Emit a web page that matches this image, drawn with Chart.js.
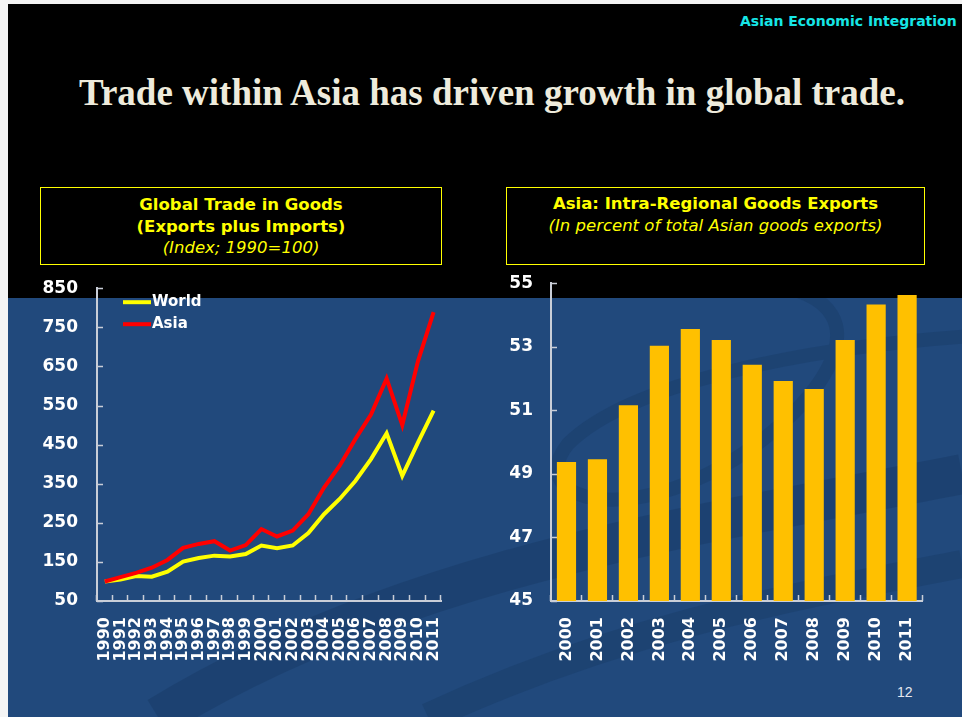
<!DOCTYPE html>
<html>
<head>
<meta charset="utf-8">
<script src="https://cdn.jsdelivr.net/npm/chart.js@4.4.1/dist/chart.umd.min.js"></script>
<style>
  html, body { margin: 0; padding: 0; }
  body { width: 962px; height: 717px; overflow: hidden; background: #f4f4f4; position: relative; }
  #slide { position: absolute; left: 8px; top: 4px; width: 954px; height: 713px; background: #21497c; overflow: hidden; }
  #top { position: absolute; left: 0; top: 0; width: 954px; height: 294px; background: #000; }
  .abs { position: absolute; white-space: nowrap; }
  #tag { left: 732px; top: 9px; color: #16e6e6; font: bold 14px "DejaVu Sans", sans-serif; }
  #title { left: 0; width: 968px; top: 67px; text-align: center; color: #eeebdc; font: bold 37px "Liberation Serif", serif; }
  .box { position: absolute; border: 1px solid #ffff00; color: #ffff00; text-align: center; font: bold 16.5px "DejaVu Sans", sans-serif; line-height: 21.5px; box-sizing: border-box; padding-top: 6px; }
  .box i { font-weight: normal; }
  #page { left: 889px; top: 680px; color: #e6e8f0; font: 14px "Liberation Sans", sans-serif; }
  canvas { position: absolute; }
</style>
</head>
<body>
<div id="slide">
  <svg width="954" height="713" style="position:absolute;left:0;top:0">
    <path d="M150 713 C 400 560, 700 520, 954 470" stroke="#1b3f6c" stroke-width="40" fill="none" opacity="0.7"/>
    <path d="M420 713 C 620 620, 800 590, 954 560" stroke="#1b3f6c" stroke-width="28" fill="none" opacity="0.6"/>
    <path d="M1000 330 C 800 340, 620 380, 560 440 C 520 490, 600 520, 700 470 C 800 420, 900 300, 760 280" stroke="#1b3f6c" stroke-width="14" fill="none" opacity="0.6"/>
  </svg>
  <div id="top"></div>
  <div class="abs" id="tag">Asian Economic Integration</div>
  <div class="abs" id="title">Trade within Asia has driven growth in global trade.</div>
  <div id="page" class="abs">12</div>
</div>
<div class="box" style="left:40px;top:187px;width:402px;height:78px;">Global Trade in Goods<br>(Exports plus Imports)<br><i>(Index; 1990=100)</i></div>
<div class="box" style="left:506px;top:187px;width:419px;height:78px;padding-top:5px;">Asia: Intra-Regional Goods Exports<br><i>(In percent of total Asian goods exports)</i></div>
<canvas id="tradeChart" width="439" height="421" style="left:30px;top:259px"></canvas>
<canvas id="intraChart" width="453" height="425" style="left:490px;top:255px"></canvas>
<script>
// Global trade in goods, index 1990 = 100
const tradeYears = ['1990','1991','1992','1993','1994','1995','1996','1997','1998','1999','2000',
                    '2001','2002','2003','2004','2005','2006','2007','2008','2009','2010','2011'];
const worldIndex = [100, 105, 114, 112, 125, 151, 160, 166, 164, 170, 192,
                    185, 192, 224, 272, 311, 357, 413, 479, 370, 455, 537];
const asiaIndex  = [100, 111, 122, 135, 155, 186, 196, 203, 179, 193, 234,
                    215, 230, 272, 340, 396, 464, 527, 619, 500, 663, 789];

// Intra-regional share of Asian goods exports (percent)
const intraYears = ['2000','2001','2002','2003','2004','2005','2006','2007','2008','2009','2010','2011'];
const intraShare = [49.37, 49.46, 51.16, 53.03, 53.56, 53.21, 52.43, 51.92, 51.67, 53.21, 54.33, 54.63];

const axisColor = '#c9ced8';
const labelFont = { family: 'DejaVu Sans', weight: 'bold', size: 17 };

// tick marks pointing into the plot, like the original
const innerTicks = {
    id: 'innerTicks',
    beforeDatasetsDraw(chart) {
        const { ctx, chartArea, scales } = chart;
        ctx.save();
        ctx.strokeStyle = axisColor;
        ctx.lineWidth = 1.5;
        ctx.beginPath();
        scales.y.ticks.forEach(t => {
            const py = Math.round(scales.y.getPixelForValue(t.value)) + 0.5;
            ctx.moveTo(chartArea.left, py);
            ctx.lineTo(chartArea.left + 6, py);
        });
        const x = scales.x;
        const n = chart.data.labels.length;
        const step = (x.right - x.left) / n;
        for (let i = 0; i <= n; i++) {
            const px = Math.round(x.left + i * step) - 0.5;
            ctx.moveTo(px, chartArea.bottom);
            ctx.lineTo(px, chartArea.bottom - 6);
        }
        ctx.stroke();
        ctx.restore();
    }
};

// legend inside the plot, top left
const insideLegend = {
    id: 'insideLegend',
    afterDraw(chart) {
        const { ctx, chartArea } = chart;
        ctx.save();
        ctx.font = 'bold 15px "DejaVu Sans"';
        ctx.textBaseline = 'middle';
        chart.data.datasets.forEach((ds, i) => {
            const y = chartArea.top + 14 + i * 22;
            const x = chartArea.left + 26;
            ctx.strokeStyle = ds.borderColor;
            ctx.lineWidth = 4;
            ctx.beginPath();
            ctx.moveTo(x, y);
            ctx.lineTo(x + 28, y);
            ctx.stroke();
            ctx.fillStyle = '#ffffff';
            ctx.fillText(ds.label, x + 29, y);
        });
        ctx.restore();
    }
};

new Chart(document.getElementById('tradeChart'), {
    type: 'line',
    data: {
        labels: tradeYears,
        datasets: [
            { label: 'World', data: worldIndex, borderColor: '#ffff00', borderWidth: 4, pointRadius: 0, tension: 0, order: 2 },
            { label: 'Asia', data: asiaIndex, borderColor: '#ff0000', borderWidth: 4, pointRadius: 0, tension: 0, order: 1 }
        ]
    },
    options: {
        responsive: false,
        animation: false,
        layout: { padding: { top: 17, right: 9 } },
        plugins: { legend: { display: false }, tooltip: { enabled: false } },
        scales: {
            x: {
                offset: true,
                grid: { display: false, drawTicks: false },
                border: { color: axisColor, width: 2 },
                ticks: { color: '#ffffff', font: { family: 'DejaVu Sans', weight: 'bold', size: 16 },
                         autoSkip: false, minRotation: 90, maxRotation: 90, padding: 16 },
                afterFit: s => { s.height = 79; }
            },
            y: {
                min: 50, max: 850,
                grid: { display: false, drawTicks: false },
                border: { color: axisColor, width: 2 },
                ticks: { stepSize: 100, color: '#ffffff', font: labelFont, padding: 19 },
                afterFit: s => { s.width = 67; }
            }
        }
    },
    plugins: [innerTicks, insideLegend]
});

new Chart(document.getElementById('intraChart'), {
    type: 'bar',
    data: {
        labels: intraYears,
        datasets: [{
            label: 'Intra-regional exports',
            data: intraShare,
            backgroundColor: '#ffc000',
            categoryPercentage: 1,
            barPercentage: 0.62
        }]
    },
    options: {
        responsive: false,
        animation: false,
        layout: { padding: { top: 13, right: 17 } },
        plugins: { legend: { display: false }, tooltip: { enabled: false } },
        scales: {
            x: {
                grid: { display: false, drawTicks: false },
                border: { color: axisColor, width: 2 },
                ticks: { color: '#ffffff', font: { family: 'DejaVu Sans', weight: 'bold', size: 16 },
                         autoSkip: false, minRotation: 90, maxRotation: 90, padding: 16 },
                afterFit: s => { s.height = 79; }
            },
            y: {
                min: 45, max: 55,
                grid: { display: false, drawTicks: false },
                border: { color: axisColor, width: 2 },
                ticks: { stepSize: 2, color: '#ffffff', font: labelFont, padding: 18 },
                afterFit: s => { s.width = 61; }
            }
        }
    },
    plugins: [innerTicks]
});
</script>
</body>
</html>
